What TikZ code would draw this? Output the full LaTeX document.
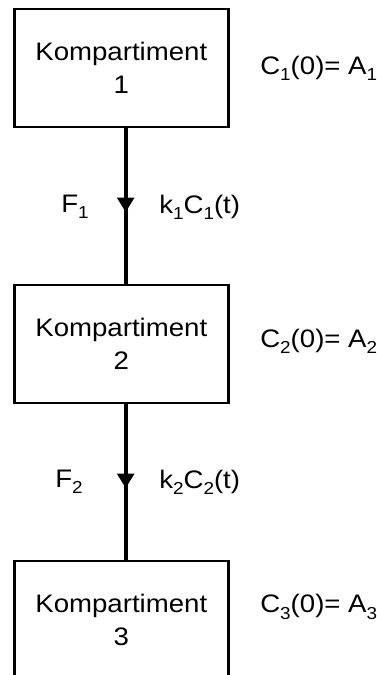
\documentclass[tikz,border=0pt]{standalone}
\usepackage{fontspec}
\setmainfont[FakeStretch=1.09]{Liberation Sans}
\usetikzlibrary{arrows.meta, decorations.markings, positioning}
\newcommand{\ix}[1]{\raisebox{-0.25em}{\fontsize{13}{13}\selectfont #1}}

\begin{document}
\begin{tikzpicture}[x=0.75pt,y=-0.75pt,
    komp/.style={rectangle,draw=black,line width=2pt,fill=white,
                 minimum width=160.5pt,minimum height=88.5pt,align=center,
                 font=\fontsize{19}{25}\selectfont},
    lbl/.style={font=\fontsize{19}{23}\selectfont,inner sep=0pt},
    flow/.style={line width=3pt,postaction={decorate},
                 decoration={markings,mark=at position 0.54 with
                   {\arrow{Triangle[length=11pt,width=12.5pt]}}}}]
      \useasboundingbox (0,0) rectangle (377,675);
      \node[komp](b1)at(121.3, 68) {Kompartiment\\1};
      \node[komp](b2)at(121.3,344) {Kompartiment\\2};
      \node[komp](b3)at(121.3,620) {Kompartiment\\3};
      \draw[flow]([xshift=3.3pt]b1.south)--([xshift=3.3pt]b2.north);
      \draw[flow]([xshift=3.3pt]b2.south)--([xshift=3.3pt]b3.north);
      \node[lbl](f1)at(75,207) {F\ix{1}};
      \node[lbl](f2)at(69,482) {F\ix{2}};
      \node[lbl,anchor=west](k1)at(159,207) {k\ix{1}C\ix{1}(t)};
      \node[lbl,anchor=west](k2)at(159,482) {k\ix{2}C\ix{2}(t)};
      \node[lbl,anchor=west](c1)at(260, 68) {C\ix{1}(0)= A\ix{1}};
      \node[lbl,anchor=west](c2)at(260,341) {C\ix{2}(0)= A\ix{2}};
      \node[lbl,anchor=west](c3)at(260,607) {C\ix{3}(0)= A\ix{3}};
    \end{tikzpicture}
\end{document}
